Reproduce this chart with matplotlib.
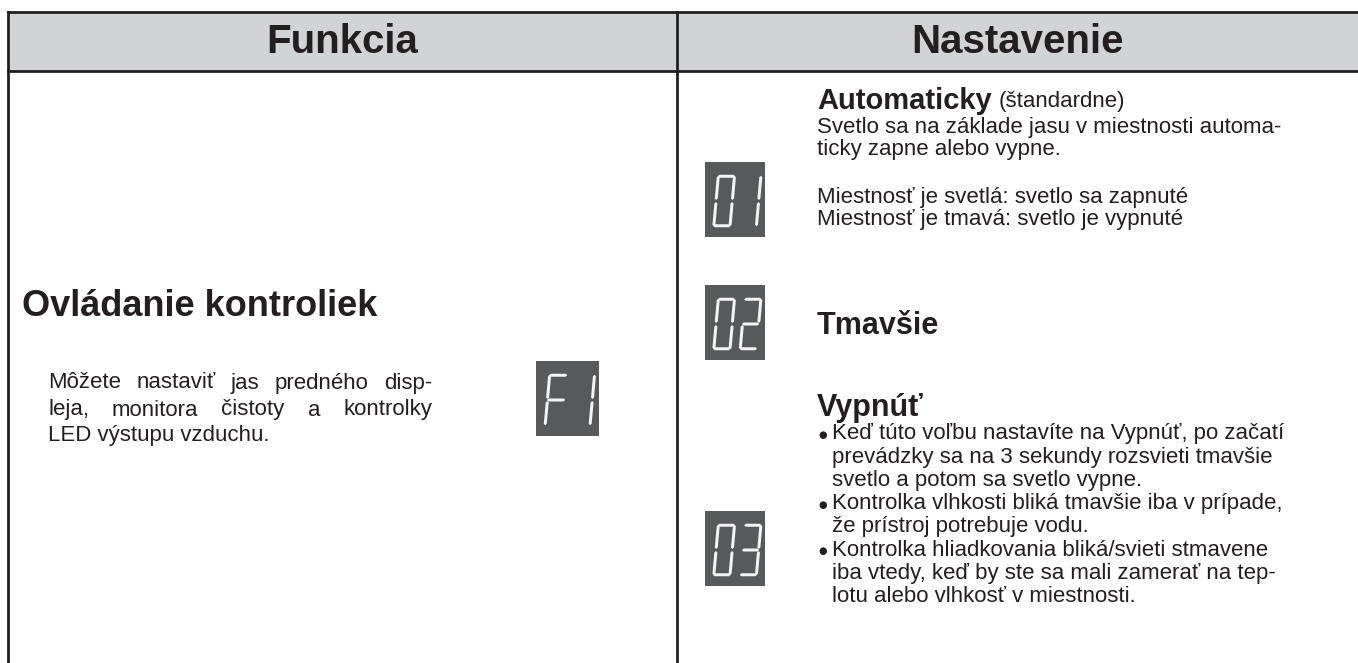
import matplotlib
matplotlib.use("Agg")
import matplotlib.pyplot as plt
from matplotlib.patches import Rectangle, Polygon

# table content
headers = ["Funkcia", "Nastavenie"]
func_title = "Ovládanie kontroliek"
func_desc = ["Môžete nastaviť jas predného disp-",
             "leja, monitora čistoty a kontrolky",
             "LED výstupu vzduchu."]
codes = ["F1", "01", "02", "03"]
auto_title = "Automaticky"
auto_note = "(štandardne)"
auto_lines = ["Svetlo sa na základe jasu v miestnosti automa-",
              "ticky zapne alebo vypne.",
              "Miestnosť je svetlá: svetlo sa zapnuté",
              "Miestnosť je tmavá: svetlo je vypnuté"]
dark_title = "Tmavšie"
off_title = "Vypnúť"
off_bullets = [["Keď túto voľbu nastavíte na Vypnúť, po začatí",
                "prevádzky sa na 3 sekundy rozsvieti tmavšie",
                "svetlo a potom sa svetlo vypne."],
               ["Kontrolka vlhkosti bliká tmavšie iba v prípade,",
                "že prístroj potrebuje vodu."],
               ["Kontrolka hliadkovania bliká/svieti stmavene",
                "iba vtedy, keď by ste sa mali zamerať na tep-",
                "lotu alebo vlhkosť v miestnosti."]]

# seven segment map
SEGS = {"0": "abcdef", "1": "bc", "2": "abged", "3": "abgcd", "F": "aefg"}

body_font = ["Liberation Sans", "DejaVu Sans"]
ink = "#231f20"

fig = plt.figure(figsize=(13.58, 6.63), dpi=100)
ax = fig.add_axes([0, 0, 1, 1])
ax.set_xlim(0, 1358)
ax.set_ylim(663, 0)
ax.axis("off")
r = fig.canvas.get_renderer()

# frame
left, top, hbot, div = 8, 12, 71, 677
ax.add_patch(Rectangle((left, top), 1400, hbot - top, fc="#d1d3d4", ec="none"))
ax.plot([left, 1358], [top, top], c=ink, lw=2)
ax.plot([left, 1358], [hbot, hbot], c=ink, lw=2)
ax.plot([left, left], [top, 663], c=ink, lw=2)
ax.plot([div, div], [top, 663], c=ink, lw=2)

ax.text((left + div) / 2, 42, headers[0], family=body_font, weight="bold",
        fontsize=29, ha="center", va="center", color=ink)
ax.text((div + 1358) / 2, 42, headers[1], family=body_font, weight="bold",
        fontsize=29, ha="center", va="center", color=ink)


def seg_polys(W, H, T, G):
    def hseg(yc):
        return [(G, yc), (G + T / 2, yc - T / 2), (W - G - T / 2, yc - T / 2),
                (W - G, yc), (W - G - T / 2, yc + T / 2), (G + T / 2, yc + T / 2)]

    def vseg(xc, y1, y2):
        return [(xc, y1 + G), (xc + T / 2, y1 + G + T / 2), (xc + T / 2, y2 - G - T / 2),
                (xc, y2 - G), (xc - T / 2, y2 - G - T / 2), (xc - T / 2, y1 + G + T / 2)]
    return {"a": hseg(T / 2), "g": hseg(H / 2), "d": hseg(H - T / 2),
            "f": vseg(T / 2, 0, H / 2), "e": vseg(T / 2, H / 2, H),
            "b": vseg(W - T / 2, 0, H / 2), "c": vseg(W - T / 2, H / 2, H)}


def display(x0, y0, code, w=60, h=75):
    ax.add_patch(Rectangle((x0, y0), w, h, fc="#58595b", ec="none"))
    W, H = w * 0.32, h * 0.70
    polys = seg_polys(W, H, 3.0, 1.0)
    for k, ch in enumerate(code):
        dx = x0 + w * (0.12 + 0.44 * k)
        dy = y0 + h * 0.17
        for s in SEGS[ch]:
            pts = [(dx + px + (H - py) * 0.09, dy + py) for px, py in polys[s]]
            ax.add_patch(Polygon(pts, closed=True, fc="#f4f4f4", ec="none"))


def justified(x, y, text, width, **kw):
    words = text.split(" ")
    arts = [ax.text(0, y, wd, **kw) for wd in words]
    widths = [a.get_window_extent(r).width for a in arts]
    gap = (width - sum(widths)) / (len(words) - 1)
    cx = x
    for a, wd in zip(arts, widths):
        a.set_x(cx)
        cx += wd + gap


body = dict(family=body_font, fontsize=16, color=ink, va="center")
bold = dict(family=body_font, weight="bold", color=ink, va="center")

# left column
ax.text(22, 307, func_title, fontsize=26, **bold)
justified(48, 383, func_desc[0], 384, **body)
justified(48, 410, func_desc[1], 384, **body)
ax.text(48, 436, func_desc[2], **body)
display(536, 361, codes[0], w=63)

# right column
tx = 817
t = ax.text(tx, 101, auto_title, fontsize=21, **bold)
ax.text(t.get_window_extent(r).x1 + 7, 102, auto_note, **body)
for line, yy in zip(auto_lines, [127, 149, 197, 220]):
    ax.text(tx, yy, line, **body)
display(705, 162, codes[1])
display(705, 285, codes[2])
ax.text(tx, 326, dark_title, fontsize=22, **bold)
ax.text(tx, 408, off_title, fontsize=22, **bold)
display(705, 511, codes[3])

y = 434
for item in off_bullets:
    ax.text(tx + 1, y + 1, "●", family=["DejaVu Sans"], fontsize=7, color=ink, va="center")
    for line in item:
        ax.text(tx + 15, y, line, **body)
        y += 23.2

fig.savefig("out.png", dpi=100)
